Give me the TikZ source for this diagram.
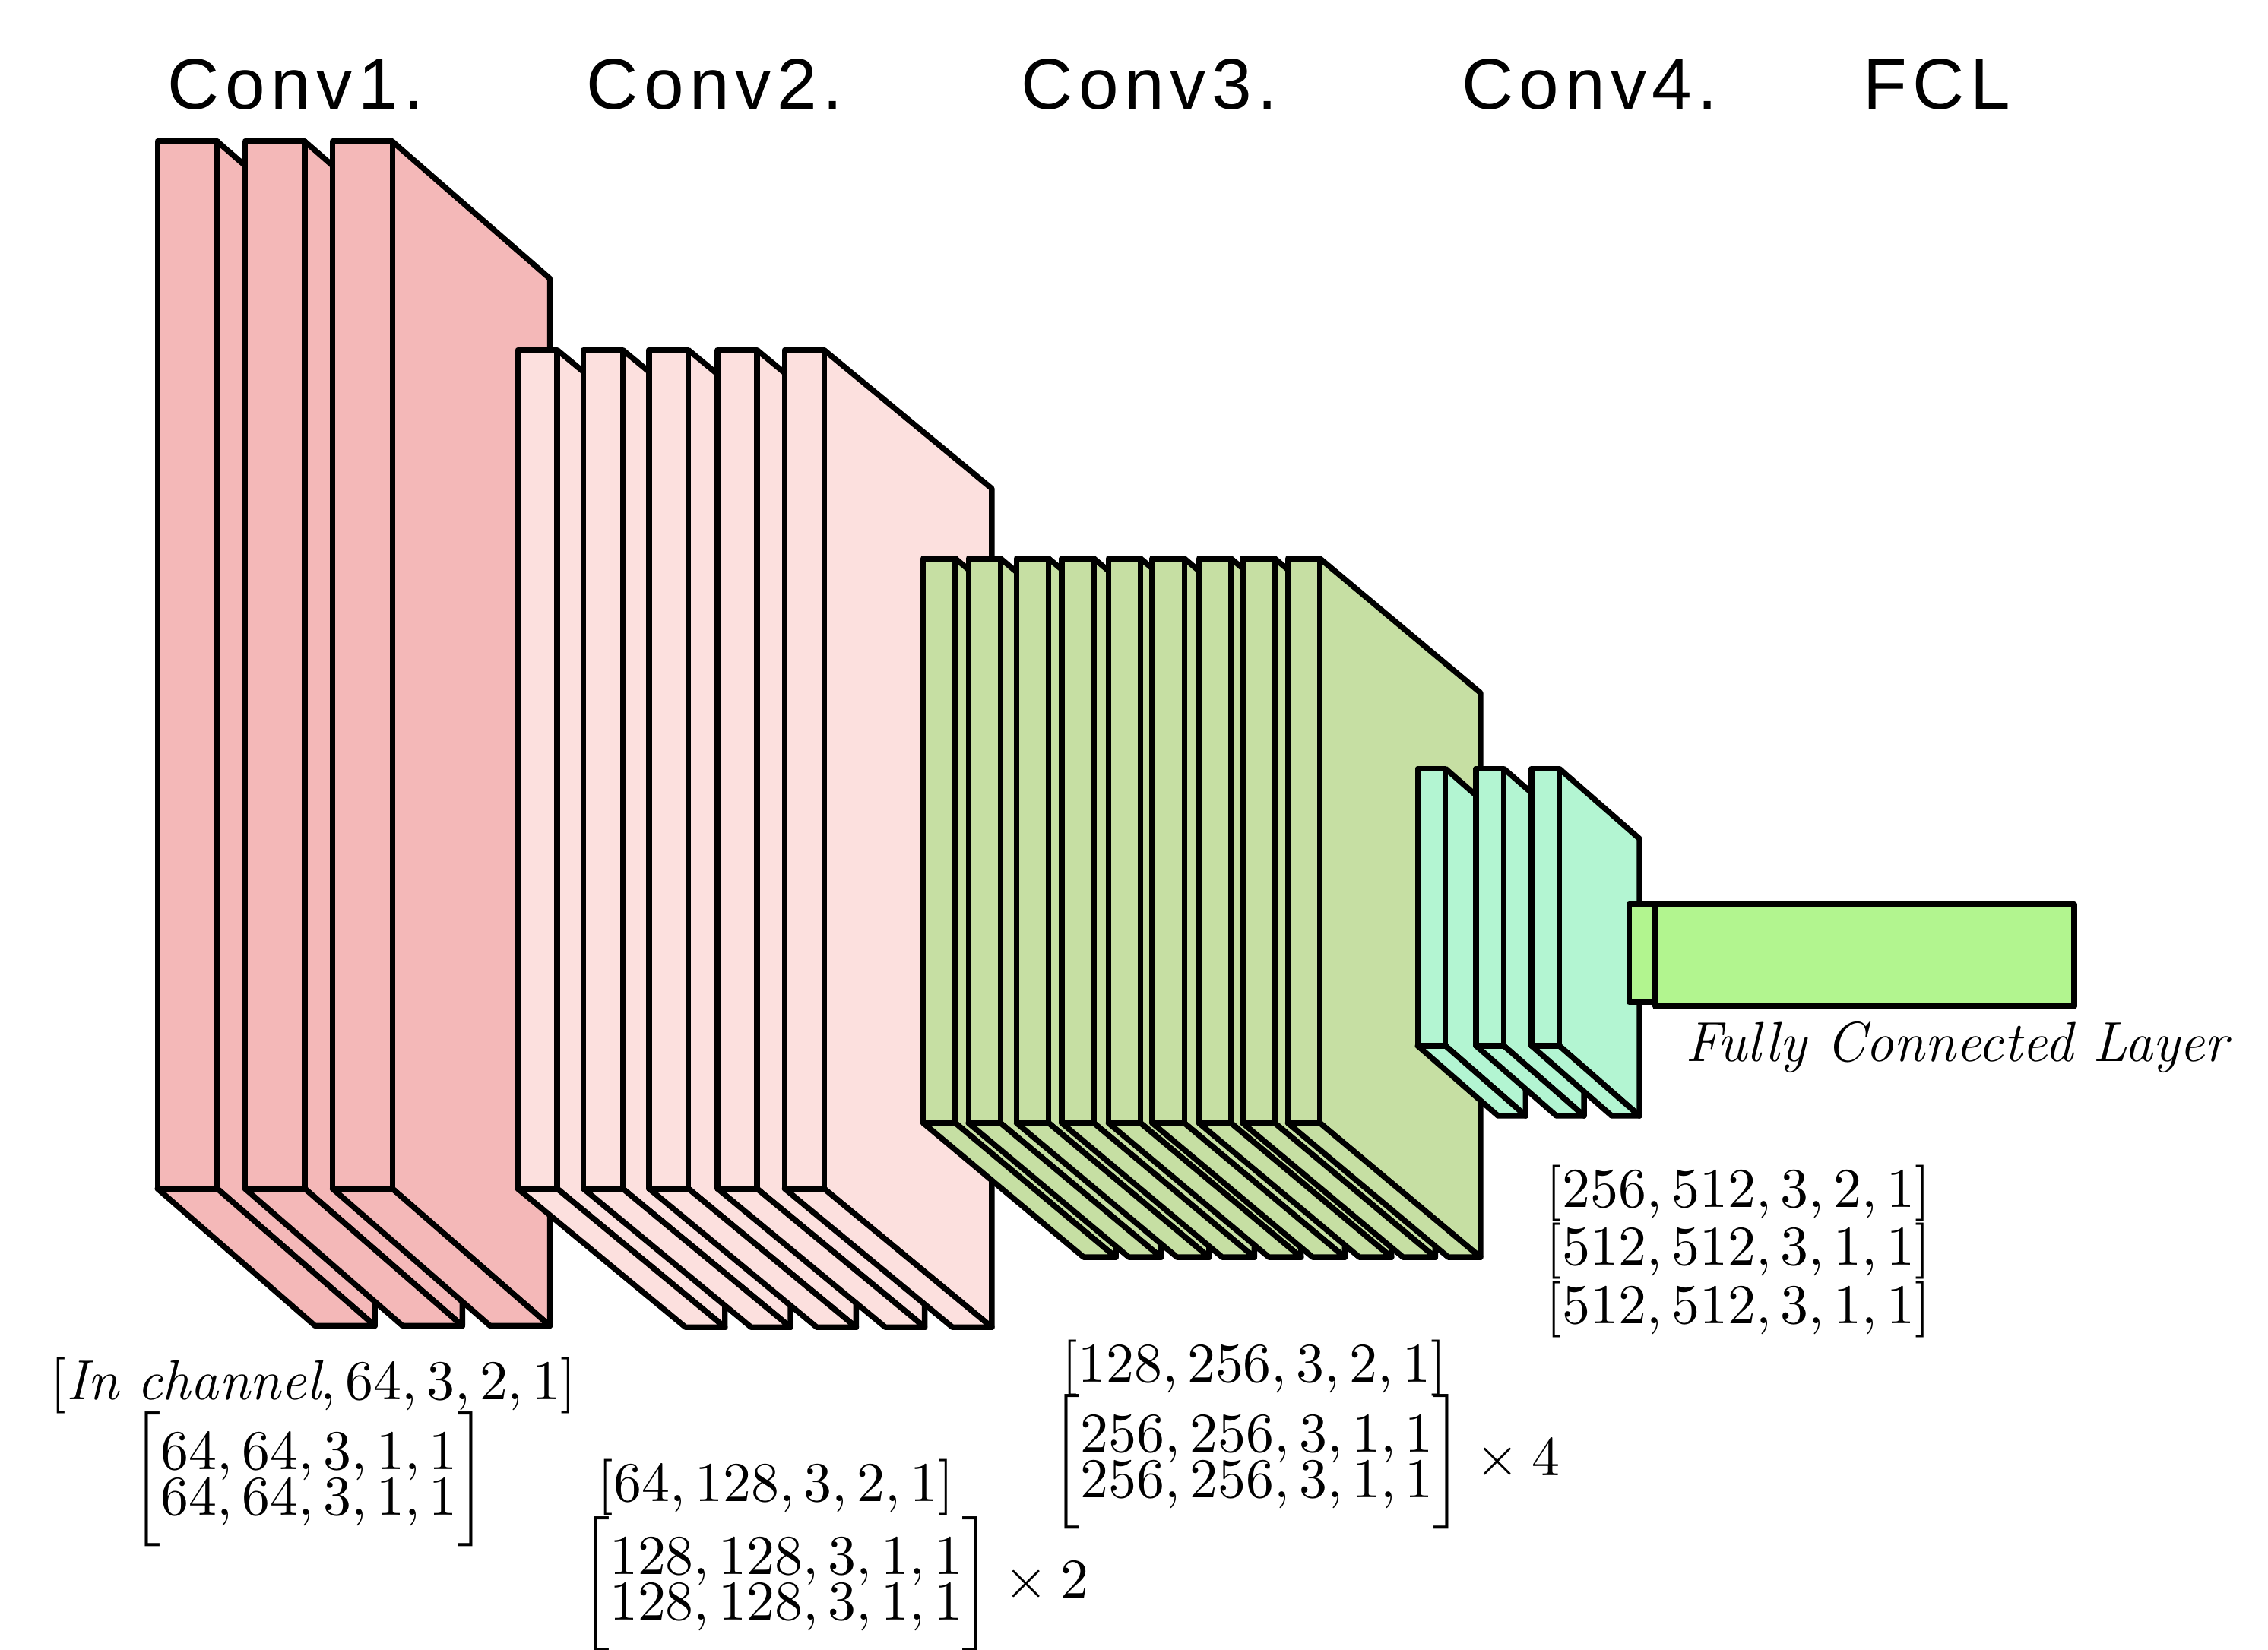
\documentclass[tikz,border=0pt]{standalone}
\usepackage{amsmath}
\usepackage{fontspec}
\newfontfamily\titlefont{Liberation Sans}[LetterSpace=8]
\begin{document}
\begin{tikzpicture}[x=0.01cm,y=-0.01cm,
  face/.style={draw=black,line width=1.1pt,line join=round},
  title/.style={font=\titlefont\fontsize{14}{17}\selectfont},
  lab/.style={font=\fontsize{11}{13}\selectfont,inner sep=0pt}]
\newcommand\cubebox[7]{% x w top bot dx dy colour
  \fill[#7] (#1+#2,#3) -- (#1+#2+#5,#3+#6) -- (#1+#2+#5,#4+#6) -- (#1+#2,#4) -- cycle;
  \draw[face] (#1+#2,#3) -- (#1+#2+#5,#3+#6) -- (#1+#2+#5,#4+#6) -- (#1+#2,#4);
  \draw[face,fill=#7] (#1,#4) -- (#1+#2,#4) -- (#1+#2+#5,#4+#6) -- (#1+#5,#4+#6) -- cycle;
  \draw[face,fill=#7] (#1,#3) rectangle (#1+#2,#4);
}
\newcommand\twomat[2]{\left[\begin{matrix}#1\\[-4pt] #2\end{matrix}\right]}
\useasboundingbox (0,0) rectangle (1555,1131);
\definecolor{cA}{HTML}{F4B8B8}
\definecolor{cB}{HTML}{FCE0DE}
\definecolor{cC}{HTML}{C6DFA3}
\definecolor{cD}{HTML}{B3F5D2}
\definecolor{cE}{HTML}{B2F58F}
% Conv1
\foreach \x in {108,168,228} {\cubebox{\x}{41}{97}{815}{108}{94}{cA}}
% Conv2
\foreach \x in {355,400,445,492,538} {\cubebox{\x}{27}{240}{815}{115}{95}{cB}}
% Conv3
\foreach \x in {633,664,697,728,760,790,822,852,883} {\cubebox{\x}{22}{383}{770}{110}{92}{cC}}
% Conv4
\foreach \x in {972,1012,1050} {\cubebox{\x}{19}{527}{717}{55}{48}{cD}}
% FCL
\draw[face,fill=cE] (1135,620) rectangle (1422,690);
\draw[face,fill=cE] (1117,620) rectangle (1135,687);
% titles
\node[title] (t1) at (203,58) {Conv1.};
\node[title] (t2) at (490,58) {Conv2.};
\node[title] (t3) at (788,58) {Conv3.};
\node[title] (t4) at (1090,58) {Conv4.};
\node[title] (t5) at (1328,58) {FCL};
\node[lab,font=\fontsize{11}{13}\selectfont\itshape,anchor=west] (fc) at (1155,718) {Fully Connected Layer};
% labels
\node[lab] (l1a) at (215,950) {$[\mathit{In\ channel}, 64, 3, 2, 1]$};
\node[lab] (l1b) at (212,1014) {$\twomat{64, 64, 3, 1, 1}{64, 64, 3, 1, 1}$};
\node[lab] (l2a) at (532,1020) {$[64, 128, 3, 2, 1]$};
\node[lab] (l2b) at (572,1086) {$\twomat{128, 128, 3, 1, 1}{128, 128, 3, 1, 1}\times 2$};
\node[lab] (l3a) at (860,938) {$[128, 256, 3, 2, 1]$};
\node[lab] (l3b) at (895,1002) {$\twomat{256, 256, 3, 1, 1}{256, 256, 3, 1, 1}\times 4$};
\node[lab] (l4a) at (1192,818) {$[256, 512, 3, 2, 1]$};
\node[lab] (l4b) at (1192,858) {$[512, 512, 3, 1, 1]$};
\node[lab] (l4c) at (1192,898) {$[512, 512, 3, 1, 1]$};
\end{tikzpicture}
\end{document}
